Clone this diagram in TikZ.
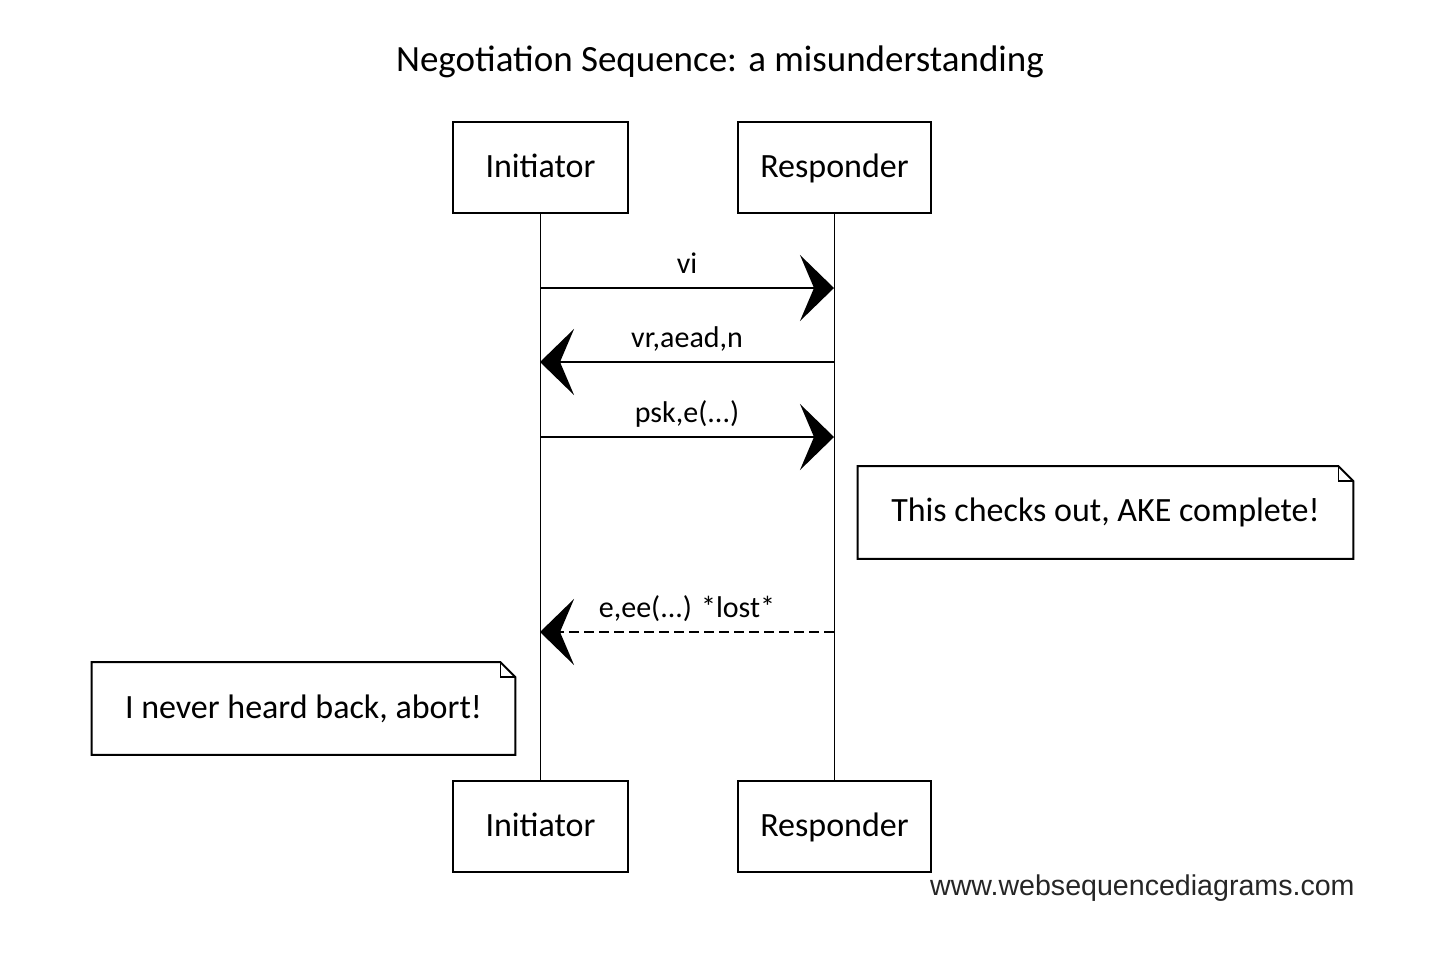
\documentclass[tikz,border=0pt]{standalone}
\usepackage{fontspec}
\setmainfont{Carlito}
\newfontfamily\wsdfont{Liberation Sans}
\usetikzlibrary{arrows.meta}
\usetikzlibrary{positioning}
\tikzset{>={Stealth[length=17pt,width=33pt,inset=7pt]}}

\begin{document}
\begin{tikzpicture}[x=.5pt, y=-.5pt,
    actor/.style={draw, line width=1pt, minimum height=45.5pt, text height=2ex, text depth=0pt, font=\fontsize{17}{20}\selectfont},
    lifeline/.style={line width=.7pt},
    msg/.style={->, line width=1.2pt},
    lostmsg/.style={msg, dash pattern=on 5pt off 2.5pt},
    msglabel/.style={above=1pt, midway, text height=1.6ex, text depth=.5ex, font=\fontsize{15}{18}\selectfont},
    notebox/.style={minimum height=46pt, inner sep=0pt, font=\fontsize{17}{20}\selectfont}]
  \useasboundingbox (0,0) rectangle (1443,963);
  % title
  \node (title) at (720,62) {\fontsize{18.5}{22}\selectfont Negotiation Sequence: a misunderstanding};
  % participants
  \node[actor, minimum width=87.5pt] (initTop) at (540.5,167.5) {Initiator};
  \node[actor, minimum width=96.5pt] (respTop) at (834.5,167.5) {Responder};
  \node[actor, minimum width=87.5pt] (initBot) at (540.5,826.5) {Initiator};
  \node[actor, minimum width=96.5pt] (respBot) at (834.5,826.5) {Responder};
  % lifelines
  \draw[lifeline] (initTop) -- (initBot);
  \draw[lifeline] (respTop) -- (respBot);
  % message ends
  \coordinate (i1) at (540,288); \coordinate (r1) at (834,288);
  \coordinate (i2) at (540,362); \coordinate (r2) at (834,362);
  \coordinate (i3) at (540,437); \coordinate (r3) at (834,437);
  \coordinate (i4) at (540,632); \coordinate (r4) at (834,632);
  % messages
  \draw[msg] (i1) -- (r1) node[msglabel] {vi};
  \draw[msg] (r2) -- (i2) node[msglabel] {vr,aead,n};
  \draw[msg] (i3) -- (r3) node[msglabel] {psk,e(...)};
  \draw[lostmsg] (r4) -- (i4) node[msglabel] {e,ee(...) *lost*};
  % notes
  \node[notebox, minimum width=247.5pt] (ake) at (1105.5,512.5) {This checks out, AKE complete!};
  \draw[line width=1pt] (ake.north west) -- ([xshift=-7.5pt]ake.north east)
    -- ([yshift=-7.5pt]ake.north east) -- (ake.south east) -- (ake.south west) -- cycle;
  \draw[line width=.8pt] ([xshift=-7.5pt]ake.north east) |- ([yshift=-7.5pt]ake.north east);
  \node[notebox, minimum width=211.5pt] (abort) at (303.5,708.5) {I never heard back, abort!};
  \draw[line width=1pt] (abort.north west) -- ([xshift=-7.5pt]abort.north east)
    -- ([yshift=-7.5pt]abort.north east) -- (abort.south east) -- (abort.south west) -- cycle;
  \draw[line width=.8pt] ([xshift=-7.5pt]abort.north east) |- ([yshift=-7.5pt]abort.north east);
  % watermark
  \node[anchor=east, inner sep=0pt, text=black!85] (wsd) at (1355,888) {\wsdfont\fontsize{14.3}{16}\selectfont www.websequencediagrams.com};
\end{tikzpicture}
\end{document}
